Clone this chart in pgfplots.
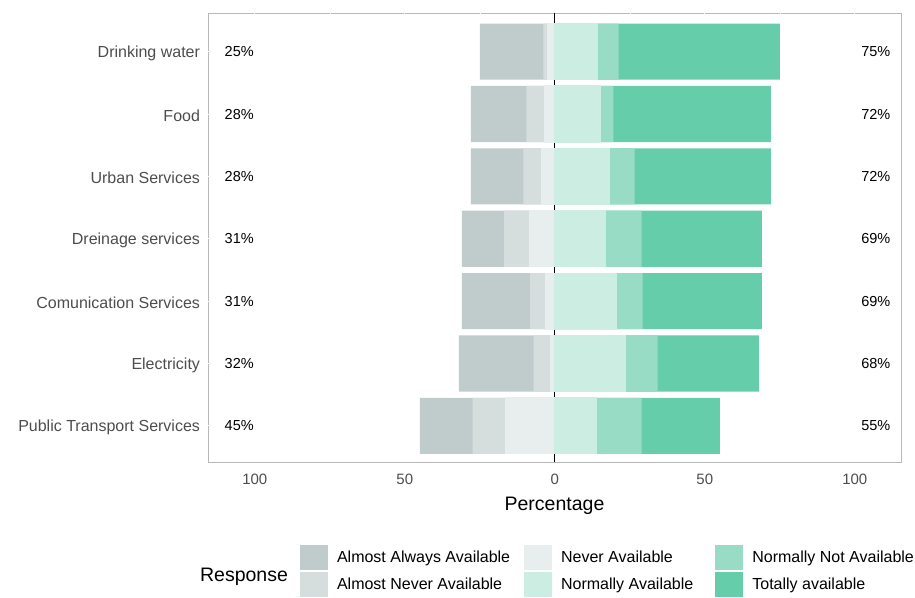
\documentclass[border=0pt]{standalone}
\usepackage{pgfplots}
\usepackage{pgfplotstable}
\pgfplotsset{compat=1.18}
\usepackage{fontspec}
\setmainfont{Liberation Sans}

\definecolor{AAcol}{HTML}{C0CCCB}
\definecolor{ANcol}{HTML}{D5DEDD}
\definecolor{NAcol}{HTML}{E8EDED}
\definecolor{NAvcol}{HTML}{CCEDE2}
\definecolor{NNAcol}{HTML}{99DCC5}
\definecolor{TAcol}{HTML}{66CDAA}
\definecolor{tickgrey}{HTML}{4D4D4D}

\pgfplotstableread{
y  AA   AN   NA   NAv  NNA  TA
1  17.6 11.1 16.3 13.8 15.1 26.1
2  24.9 5.8  1.3  23.6 10.7 33.7
3  22.7 5.3  3.0  20.4 8.9  39.7
4  14.1 8.4  8.5  16.9 12.0 40.1
5  17.5 6.2  4.3  18.2 8.4  45.4
6  18.5 5.9  3.6  15.1 4.4  52.5
7  21.2 1.5  2.3  14.2 7.1  53.7
}\datatable

\pgfplotstableread{
y  xl     L   xr    R
1  -105.2 45  107   55
2  -105.2 32  107   68
3  -105.2 31  107   69
4  -105.2 31  107   69
5  -105.2 28  107   72
6  -105.2 28  107   72
7  -105.2 25  107   75
}\labtable

\begin{document}
\begin{tikzpicture}
\useasboundingbox (0,0) rectangle (915pt,597pt);
\begin{axis}[
  at={(208pt,135pt)}, anchor=south west,
  scale only axis, width=693pt, height=449pt,
  xmin=-115.6, xmax=115.4, ymin=0.42, ymax=7.62,
  axis background/.style={draw=black!28, line width=1pt},
  axis line style={draw=none},
  xtick={-100,-50,0,50,100}, xticklabels={100,50,0,50,100},
  minor xtick={-75,-25,25,75},
  ytick={1,2,3,4,5,6,7},
  yticklabels={Public Transport Services,Electricity,Comunication Services,Dreinage services,Urban Services,Food,Drinking water},
  major tick length=0pt, minor tick length=0pt,
  grid=both,
  major grid style={white, line width=1pt},
  minor grid style={white, line width=0.6pt},
  xticklabel style={font=\fontsize{15}{18}\selectfont, text=tickgrey, yshift=-8pt},
  yticklabel style={font=\fontsize{16}{19}\selectfont, text=tickgrey, xshift=-4.5pt, yshift=-1.5pt},
  xlabel={Percentage},
  xlabel style={at={(axis description cs:0.5,0)}, anchor=center, yshift=-43.5pt, font=\fontsize{19.5}{23}\selectfont},
  legend image code/.code={\fill[#1] (0pt,-12.5pt) rectangle (28pt,12.5pt); \path (37pt,0pt);},
  legend columns=3,
  legend cell align=left,
  legend style={at={(axis description cs:0.1328,-0.1849)}, anchor=north west, draw=none, fill=none,
    inner sep=0pt, outer sep=0pt, column sep=0pt, row sep=2pt,
    nodes={inner xsep=0pt, inner ysep=0pt, font=\fontsize{16}{19}\selectfont},
    /tikz/column 2/.style={column sep=14pt},
    /tikz/column 4/.style={column sep=22pt}},
]
\addplot[black, line width=0.7pt, forget plot] coordinates {(0,0.42) (0,7.62)};

\addplot[xbar, bar shift=0pt, bar width=0.9, fill=AAcol, draw=none, forget plot]
  table[y=y, x expr={-(\thisrow{AA}+\thisrow{AN}+\thisrow{NA})}] {\datatable};
\addplot[xbar, bar shift=0pt, bar width=0.9, fill=ANcol, draw=none, forget plot]
  table[y=y, x expr={-(\thisrow{AN}+\thisrow{NA})}] {\datatable};
\addplot[xbar, bar shift=0pt, bar width=0.9, fill=NAcol, draw=NAcol, line width=1pt, forget plot]
  table[y=y, x expr={-\thisrow{NA}}] {\datatable};
\addplot[xbar, bar shift=0pt, bar width=0.9, fill=TAcol, draw=none, forget plot]
  table[y=y, x expr={\thisrow{NAv}+\thisrow{NNA}+\thisrow{TA}}] {\datatable};
\addplot[xbar, bar shift=0pt, bar width=0.9, fill=NNAcol, draw=none, forget plot]
  table[y=y, x expr={\thisrow{NAv}+\thisrow{NNA}}] {\datatable};
\addplot[xbar, bar shift=0pt, bar width=0.9, fill=NAvcol, draw=NAvcol, line width=1pt, forget plot]
  table[y=y, x expr={\thisrow{NAv}}] {\datatable};

\addplot[only marks, mark=none, forget plot, nodes near coords={\pgfplotspointmeta\%}, point meta=explicit symbolic,
  every node near coord/.style={anchor=center, font=\fontsize{14.5}{17}\selectfont, text=black}]
  table[x=xl, y=y, meta=L] {\labtable};
\addplot[only marks, mark=none, forget plot, nodes near coords={\pgfplotspointmeta\%}, point meta=explicit symbolic,
  every node near coord/.style={anchor=center, font=\fontsize{14.5}{17}\selectfont, text=black}]
  table[x=xr, y=y, meta=R] {\labtable};

\addlegendimage{fill=AAcol, draw=none}\addlegendentry{Almost Always Available}
\addlegendimage{fill=NAcol, draw=none}\addlegendentry{Never Available}
\addlegendimage{fill=NNAcol, draw=none}\addlegendentry{Normally Not Available}
\addlegendimage{fill=ANcol, draw=none}\addlegendentry{Almost Never Available}
\addlegendimage{fill=NAvcol, draw=none}\addlegendentry{Normally Available}
\addlegendimage{fill=TAcol, draw=none}\addlegendentry{Totally available}
\end{axis}
\node[font=\fontsize{19.5}{23}\selectfont, anchor=center] at (244pt,20pt) {Response};
\end{tikzpicture}
\end{document}
